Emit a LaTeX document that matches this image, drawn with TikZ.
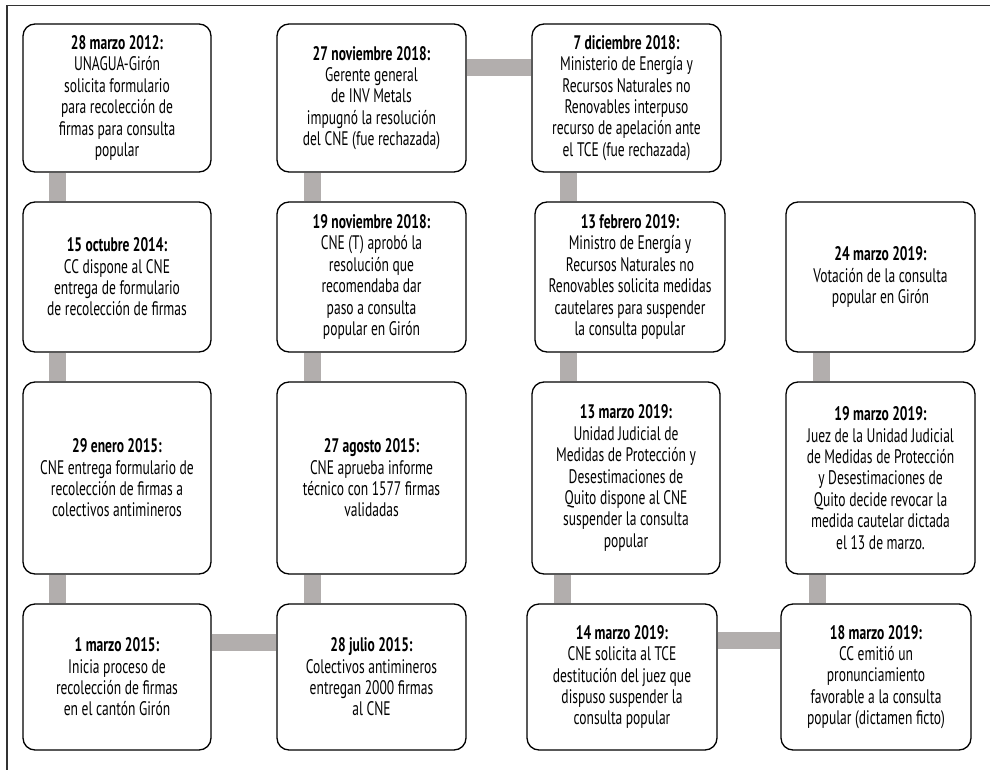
\documentclass[tikz,border=0pt]{standalone}
\usepackage{fontspec}
\setmainfont{PT Sans}[FakeStretch=0.69]
\begin{document}
\begin{tikzpicture}[x=1pt,y=-1pt,
  box/.style={draw=black, line width=1.3pt, rounded corners=12pt, fill=white, align=center, inner sep=0pt,
    font=\fontsize{19.6}{21.4}\selectfont},
  conn/.style={draw=linkgray, line width=17pt},
  frameline/.style={draw=black!80, line width=1.6pt}]
\definecolor{linkgray}{RGB}{178,174,173}
\useasboundingbox (0,0) rectangle (990,770);
% frame
\coordinate (f1) at (7,770);
\coordinate (f2) at (7,5.5);
\coordinate (f3) at (990,5.5);
\draw[frameline] (f1) -- (f2) -- (f3);
% connector x/y guides
\coordinate (xA) at (57.5,0);
\coordinate (xB) at (312.5,0);
\coordinate (xC1) at (568.5,0);
\coordinate (xC2) at (568,0);
\coordinate (xC3) at (562.5,0);
\coordinate (xD1) at (817,0);
\coordinate (xD2) at (821.5,0);
\coordinate (yR1) at (0,67.5);
\coordinate (yR4a) at (0,642);
\coordinate (yR4b) at (0,640.5);
% nodes
\node[box, minimum width=188pt, minimum height=148pt] (A1) at (117,98)
  {\textbf{28 marzo 2012:}\\UNAGUA-Girón\\solicita formulario\\para recolección de\\firmas para consulta\\popular};
\node[box, minimum width=189pt, minimum height=148pt] (B1) at (371.5,98)
  {\textbf{27 noviembre 2018:}\\Gerente general\\de INV Metals\\impugnó la resolución\\del CNE (fue rechazada)};
\node[box, minimum width=189pt, minimum height=148pt] (C1) at (626.5,98)
  {\textbf{7 diciembre 2018:}\\Ministerio de Energía y\\Recursos Naturales no\\Renovables interpuso\\recurso de apelación ante\\el TCE (fue rechazada)};
\node[box, minimum width=188pt, minimum height=150pt] (A2) at (117,277)
  {\textbf{15 octubre 2014:}\\CC dispone al CNE\\entrega de formulario\\de recolección de firmas};
\node[box, minimum width=189pt, minimum height=150pt] (B2) at (371.5,277)
  {\textbf{19 noviembre 2018:}\\CNE (T) aprobó la\\resolución que\\recomendaba dar\\paso a consulta\\popular en Girón};
\node[box, minimum width=190pt, minimum height=150pt] (C2) at (630,277)
  {\textbf{13 febrero 2019:}\\Ministro de Energía y\\Recursos Naturales no\\Renovables solicita medidas\\cautelares para suspender\\la consulta popular};
\node[box, minimum width=189pt, minimum height=150pt] (D2) at (880.5,277)
  {\textbf{24 marzo 2019:}\\Votación de la consulta\\popular en Girón};
\node[box, minimum width=188pt, minimum height=192pt] (A3) at (117,478)
  {\textbf{29 enero 2015:}\\CNE entrega formulario de\\recolección de firmas a\\colectivos antimineros};
\node[box, minimum width=189pt, minimum height=192pt] (B3) at (371.5,478)
  {\textbf{27 agosto 2015:}\\CNE aprueba informe\\técnico con 1577 firmas\\validadas};
\node[box, minimum width=188pt, minimum height=192pt] (C3) at (626,478)
  {\textbf{13 marzo 2019:}\\Unidad Judicial de\\Medidas de Protección y\\Desestimaciones de\\Quito dispone al CNE\\suspender la consulta\\popular};
\node[box, minimum width=189pt, minimum height=192pt] (D3) at (880.5,478)
  {\textbf{19 marzo 2019:}\\Juez de la Unidad Judicial\\de Medidas de Protección\\y Desestimaciones de\\Quito decide revocar la\\medida cautelar dictada\\el 13 de marzo.};
\node[box, minimum width=188pt, minimum height=146pt] (A4) at (117,677)
  {\textbf{1 marzo 2015:}\\Inicia proceso de\\recolección de firmas\\en el cantón Girón};
\node[box, minimum width=189pt, minimum height=146pt] (B4) at (371.5,677)
  {\textbf{28 julio 2015:}\\Colectivos antimineros\\entregan 2000 firmas\\al CNE};
\node[box, minimum width=190pt, minimum height=146pt] (C4) at (622,677)
  {\textbf{14 marzo 2019:}\\CNE solicita al TCE\\destitución del juez que\\dispuso suspender la\\consulta popular};
\node[box, minimum width=190pt, minimum height=146pt] (D4) at (876,677)
  {\textbf{18 marzo 2019:}\\CC emitió un\\pronunciamiento\\favorable a la consulta\\popular (dictamen ficto)};
% connectors
\draw[conn] (A1.south -| xA) -- (A2.north -| xA);
\draw[conn] (A2.south -| xA) -- (A3.north -| xA);
\draw[conn] (A3.south -| xA) -- (A4.north -| xA);
\draw[conn] (A4.east |- yR4a) -- (B4.west |- yR4a);
\draw[conn] (B4.north -| xB) -- (B3.south -| xB);
\draw[conn] (B3.north -| xB) -- (B2.south -| xB);
\draw[conn] (B2.north -| xB) -- (B1.south -| xB);
\draw[conn] (B1.east |- yR1) -- (C1.west |- yR1);
\draw[conn] (C1.south -| xC1) -- (C2.north -| xC1);
\draw[conn] (C2.south -| xC2) -- (C3.north -| xC2);
\draw[conn] (C3.south -| xC3) -- (C4.north -| xC3);
\draw[conn] (C4.east |- yR4b) -- (D4.west |- yR4b);
\draw[conn] (D4.north -| xD1) -- (D3.south -| xD1);
\draw[conn] (D3.north -| xD2) -- (D2.south -| xD2);
\end{tikzpicture}
\end{document}
